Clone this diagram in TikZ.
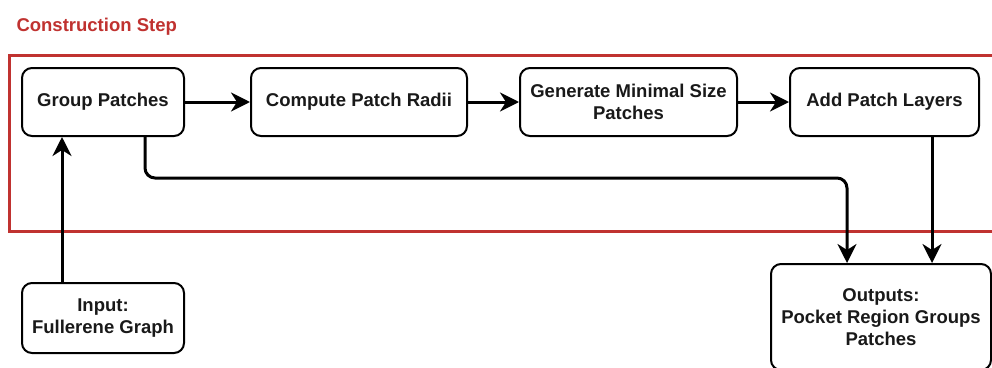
\documentclass[tikz,border=0pt]{standalone}
\usepackage{fontspec}
\setmainfont{Liberation Sans}
\usetikzlibrary{arrows.meta}
\definecolor{framered}{RGB}{192,50,48}
\definecolor{ink}{RGB}{0,0,0}
\begin{document}
\begin{tikzpicture}[x=1pt,y=-1pt,
  box/.style={draw=ink, line width=2pt, fill=white, rounded corners=10pt, align=center,
    inner sep=0pt, font=\fontsize{18.5}{22}\selectfont\bfseries, text=ink!90},
  arr/.style={draw=ink, line width=3pt, -{Stealth[length=19pt,width=19pt,inset=6pt]}}]
\clip (0,0) rectangle (992,367);
\fill[white] (0,0) rectangle (992,367);
\node[anchor=west, text=framered, font=\fontsize{18.5}{22}\selectfont\bfseries] (title) at (13,27) {Construction Step};
\draw[framered, line width=3pt] (1010,55) -- (9,55) -- (9,231) -- (1010,231);
\node[box, minimum width=162pt, minimum height=68pt] (grp) at (103,102) {Group Patches};
\node[box, minimum width=216pt, minimum height=68pt] (cpr) at (359,102) {Compute Patch Radii};
\node[box, minimum width=217pt, minimum height=68pt] (gen) at (628.5,102) {Generate Minimal Size\\Patches};
\node[box, minimum width=189pt, minimum height=68pt] (add) at (884.5,102) {Add Patch Layers};
\node[box, minimum width=162pt, minimum height=70pt] (inp) at (103,318) {Input:\\Fullerene Graph};
\node[box, minimum width=220pt, minimum height=106pt] (out) at (881,317) {Outputs:\\Pocket Region Groups\\Patches};
\draw[arr] (grp) -- (cpr);
\draw[arr] (cpr) -- (gen);
\draw[arr] (gen) -- (add);
\coordinate (i1) at ([xshift=-41pt]inp.north);
\draw[arr] (i1) -- (i1 |- grp.south);
\coordinate (g1) at ([xshift=42pt]grp.south);
\coordinate (o1) at ([xshift=-34pt]out.north);
\draw[arr, rounded corners=10pt] (g1) -- ++(0,41) -| (o1);
\coordinate (a1) at ([xshift=47.5pt]add.south);
\draw[arr] (a1) -- (a1 |- out.north);
\end{tikzpicture}
\end{document}
